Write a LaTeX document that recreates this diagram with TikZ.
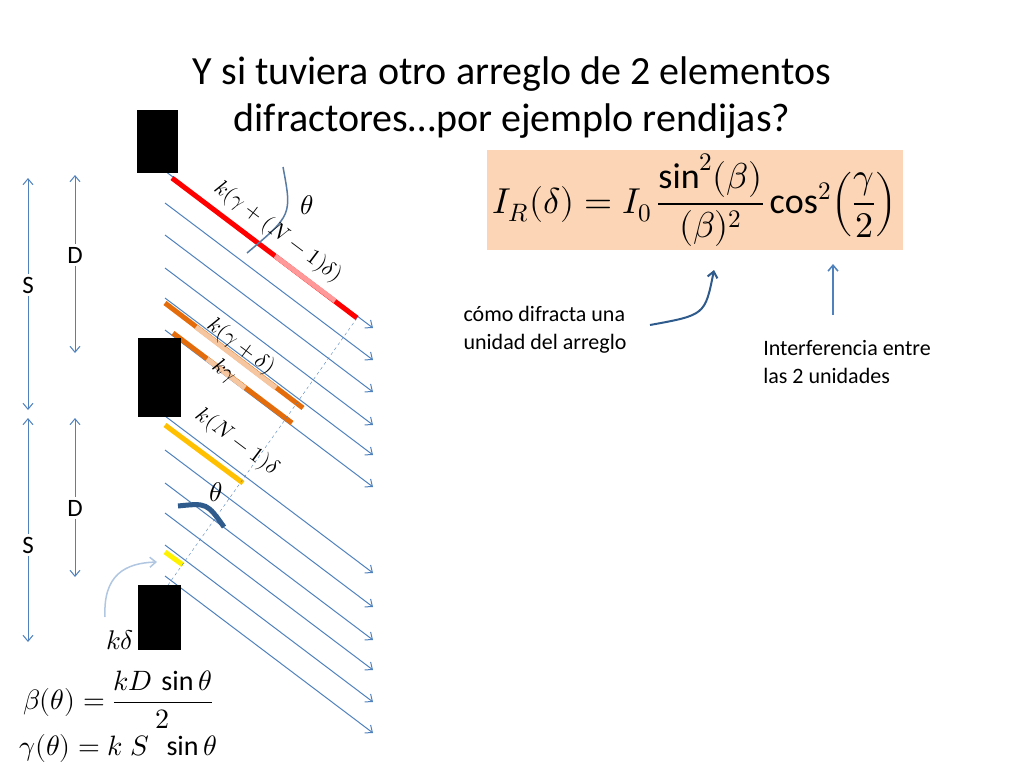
\documentclass[tikz,border=0pt]{standalone}
\usepackage{amsmath}
\usepackage{fontspec}
\usepackage{unicode-math}
\setmainfont{Carlito}
\setmathfont{Latin Modern Math}
\usetikzlibrary{arrows.meta}
\definecolor{rayblue}{HTML}{4F81BD}
\definecolor{darkarc}{HTML}{2E5A8C}
\definecolor{peach}{HTML}{FBD5B5}
\definecolor{darkorange}{HTML}{E46C0A}
\definecolor{lightorange}{HTML}{F5C6A0}
\definecolor{gold}{HTML}{FFC000}
\tikzset{
    ray/.style = {rayblue, line width=1pt, -{Straight Barb[length=6pt,width=10pt]}},
    slitblock/.style = {fill=black},
    dimarrow/.style = {rayblue, line width=1pt, {Straight Barb[length=6pt,width=10pt]}-{Straight Barb[length=6pt,width=10pt]}},
    dimlabel/.style = {fill=white, inner sep=3pt, font=\fontsize{25}{27}\selectfont},
    raylabel/.style = {rotate=-37, font=\fontsize{22}{24}\selectfont},
    note/.style = {align=left, font=\fontsize{22}{28}\selectfont}
}
\begin{document}
\begin{tikzpicture}[x=1pt, y=-1pt]
    \useasboundingbox (0, 0) rectangle (1024, 768);
    % title
    \node (title) [align=center, font=\fontsize{40}{47}\selectfont] at (512, 98) {Y si tuviera otro arreglo de 2 elementos\\difractores…por ejemplo rendijas?};
    % rays
    \foreach \e in {328, 360, 392, 425, 455, 487, 573, 607, 640, 670, 702, 733}
    {
        \draw [ray] (165, \e - 157) -- (373, \e);
    }
    % colored path differences
    \draw [red, line width=5pt] (172, 178) -- (357, 318);
    \draw [red!40, line width=5pt] (275, 256) -- (335, 301);
    \draw [darkorange, line width=5pt] (165, 303) -- (303, 408);
    \draw [lightorange, line width=5pt] (196, 327) -- (276, 388);
    \draw [darkorange, line width=5pt] (173, 333) -- (292, 423);
    \draw [lightorange, line width=5pt] (207, 359) -- (245, 388);
    \draw [gold, line width=5pt] (165, 425) -- (243, 483);
    \draw [yellow, line width=5pt] (165, 552) -- (183, 565);
    \draw [rayblue, dashed] (168, 585) -- (357, 318);
    % slits
    \fill [slitblock] (137, 110) rectangle (178, 173);
    \fill [slitblock] (138, 338) rectangle (181, 417);
    \fill [slitblock] (138, 585) rectangle (181, 650);
    % angles
    \draw [darkarc!80, line width=1.5pt] (283, 167) .. controls (292, 215) .. (247, 253);
    \node (thetatop) at (307, 205) {\fontsize{27}{29}\selectfont$\theta$};
    \draw [darkarc, line width=5pt] (178, 506) .. controls (207, 503) .. (224, 527);
    \node (thetabot) at (216, 492) {\fontsize{27}{29}\selectfont$\theta$};
    \node (kdelta) at (120, 640) {\fontsize{27}{29}\selectfont$k\delta$};
    \draw [rayblue!45, line width=1.5pt, -{Straight Barb[length=6pt,width=10pt]}] (105, 617) .. controls (103, 575) and (125, 563) .. (157, 562);
    % labels along the rays
    \node [raylabel] (lab1) at (278, 232) {$k(\gamma+(N-1)\delta)$};
    \node [raylabel] (lab2) at (241, 347) {$k(\gamma+\delta)$};
    \node [raylabel] (lab3) at (224, 372) {$k\gamma$};
    \node [raylabel] (lab4) at (237, 442) {$k(N-1)\delta$};
    % dimensions
    \draw [dimarrow] (28, 178) -- (28, 410);
    \node [dimlabel] (s1) at (28, 285) {S};
    \draw [dimarrow] (28, 418) -- (28, 642);
    \node [dimlabel] (s2) at (28, 545) {S};
    \draw [dimarrow] (75, 175) -- (75, 353);
    \node [dimlabel] (d1) at (75, 255) {D};
    \draw [dimarrow] (75, 418) -- (75, 577);
    \node [dimlabel] (d2) at (75, 508) {D};
    % intensity
    \fill [peach] (487, 150) rectangle (903, 250);
    \node (intensity) at (695, 200) {\fontsize{36}{40}\selectfont$I_R(\delta)=I_0\,\dfrac{\sin^2(\beta)}{(\beta)^2}\cos^2\!\left(\dfrac{\gamma}{2}\right)$};
    \node [note] (unit) at (545, 330) {cómo difracta una\\unidad del arreglo};
    \node [note] (interf) at (847, 362) {Interferencia entre\\las 2 unidades};
    \draw [darkarc, line width=2pt, -{Straight Barb[length=6pt,width=10pt]}] (650, 325) .. controls (705, 315) .. (714, 270);
    \draw [rayblue, line width=1.5pt, -{Straight Barb[length=6pt,width=10pt]}] (833, 315) -- (833, 264);
    % definitions
    \node (betadef) at (118, 700) {\fontsize{28}{30}\selectfont$\beta(\theta)=\dfrac{kD\,\sin\theta}{2}$};
    \node (gammadef) at (118, 748) {\fontsize{28}{30}\selectfont$\gamma(\theta)=k\;S\;\,\sin\theta$};
\end{tikzpicture}
\end{document}
